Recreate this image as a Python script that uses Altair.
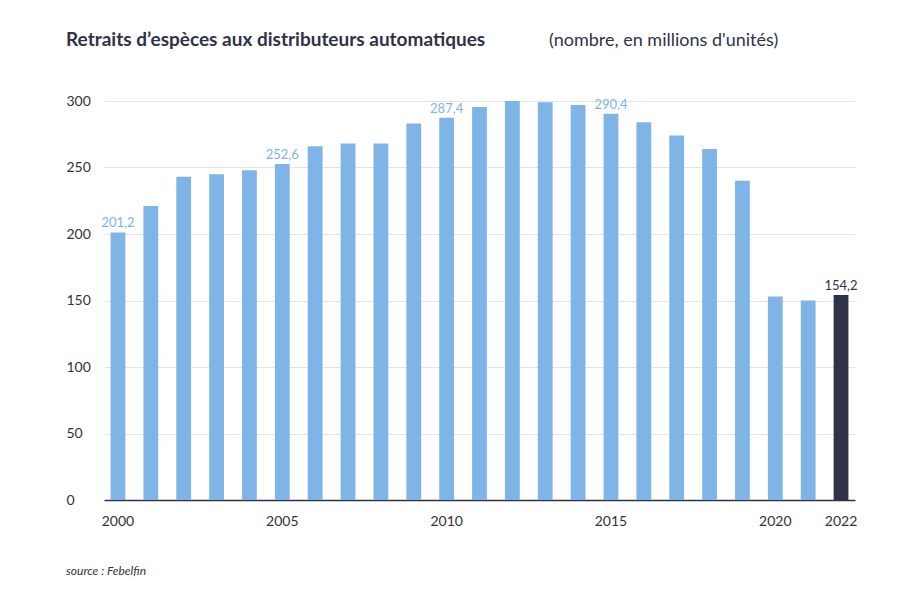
import altair as alt
import pandas as pd

years = list(range(2000, 2023))
values = [201.2, 221, 243, 245, 248, 252.6, 266, 268, 268, 283, 287.4, 295.5,
          300, 299, 297, 290.4, 284, 274, 264, 240, 153, 150, 154.2]
shown = {2000: "201,2", 2005: "252,6", 2010: "287,4", 2015: "290,4", 2022: "154,2"}
tick_years = ["2000", "2005", "2010", "2015", "2020", "2022"]

df = pd.DataFrame({
    "year": [str(y) for y in years],
    "value": values,
    "label": [shown.get(y, "") for y in years],
    "last": [y == 2022 for y in years],
})

FONT = "Lato"
light = "#7fb5e6"
dark = "#2f3249"

x = alt.X("year:O", title=None, sort=None,
          scale=alt.Scale(paddingInner=0.55, paddingOuter=0.2),
          axis=alt.Axis(labelAngle=0, values=tick_years, ticks=False,
                        domainColor="#2f3249", domainWidth=1.5,
                        labelFontSize=14, labelColor="#333", labelPadding=14,
                        labelFont=FONT))
y = alt.Y("value:Q", title=None,
          scale=alt.Scale(domain=[0, 300]),
          axis=alt.Axis(values=[0, 50, 100, 150, 200, 250, 300], domain=False,
                        ticks=False, gridColor="#e3e3e3", labelAlign="left",
                        labelPadding=38, labelFontSize=14, labelColor="#333",
                        labelFont=FONT))

base = alt.Chart(df).encode(x=x, y=y)
bars = base.mark_bar().encode(
    color=alt.condition("datum.last", alt.value(dark), alt.value(light))
)
labels = base.mark_text(dy=-9, fontSize=13, font=FONT).encode(
    text="label:N",
    color=alt.condition("datum.last", alt.value(dark), alt.value(light)),
)

title1 = alt.Chart(pd.DataFrame({"t": ["Retraits d\u2019espèces aux distributeurs automatiques"]})).mark_text(
    align="left", baseline="middle", fontSize=19, fontWeight="bold", font=FONT, color="#2f3249"
).encode(x=alt.value(-38), y=alt.value(-61), text="t:N")
title2 = alt.Chart(pd.DataFrame({"t": ["(nombre, en millions d'unités)"]})).mark_text(
    align="left", baseline="middle", fontSize=18, font=FONT, color="#2f3249"
).encode(x=alt.value(445), y=alt.value(-60), text="t:N")
source = alt.Chart(pd.DataFrame({"t": ["source : Febelfin"]})).mark_text(
    align="left", baseline="middle", fontSize=12, fontStyle="italic", font=FONT, color="#333"
).encode(x=alt.value(-38), y=alt.value(470), text="t:N")

chart = alt.layer(bars, labels, title1, title2, source).properties(
    width=751, height=399,
    autosize=alt.AutoSizeParams(type="none"),
    padding={"left": 96, "top": 93, "right": 30, "bottom": 90},
).configure_view(stroke=None)

chart.save("out.html", embed_options={"renderer": "svg", "actions": False})
